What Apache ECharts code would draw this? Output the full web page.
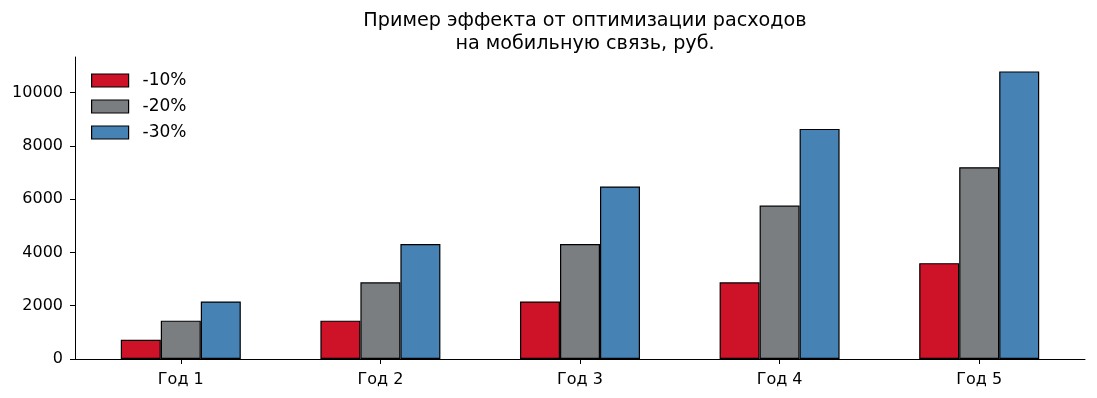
<!DOCTYPE html>
<html><head><meta charset="utf-8">
<script src="https://cdn.jsdelivr.net/npm/echarts@6/dist/echarts.min.js"></script>
<style>html,body{margin:0;padding:0;background:#fff}#c{width:1097px;height:398px}</style>
</head><body><div id="c"></div>
<script>
const categories = ['Год 1','Год 2','Год 3','Год 4','Год 5'];
const seriesNames = ['-10%','-20%','-30%'];
const s10 = [720, 1440, 2160, 2880, 3600];
const s20 = [1440, 2880, 4320, 5760, 7200];
const s30 = [2160, 4320, 6480, 8640, 10800];
const yTicks = [0, 2000, 4000, 6000, 8000, 10000];
const colors = ['#ce1228', '#7a7e81', '#4682b4'];
const font = 'DejaVu Sans';
const xPos = categories.map((c,i)=>i);
function mk(name, vals, color){
  return {name, type:'bar', data: vals.map((v,i)=>[xPos[i], v]), barWidth: 40, barGap:'0%',
    itemStyle:{color, borderColor:'#000', borderWidth:1.2}, animation:false};
}
const chart = echarts.init(document.getElementById('c'), null, {renderer:'canvas'});
chart.setOption({
  animation:false,
  title:{text:'Пример эффекта от оптимизации расходов\nна мобильную связь, руб.', left:580, textAlign:'center', top:5,
    textStyle:{fontFamily:font, fontSize:19.2, fontWeight:'normal', color:'#000', lineHeight:23}},
  legend:{orient:'vertical', left:86, top:67, itemWidth:37, itemHeight:13, itemGap:9, icon:'rect',
    textStyle:{fontFamily:font, fontSize:17, lineHeight:16, color:'#000', padding:[0,0,0,9]}, data: seriesNames,
    itemStyle:{borderColor:'#000', borderWidth:1.2}},
  grid:{left:75, top:57, width:1010, height:302},
  xAxis:{type:'value', min:-0.53, max:4.53,
    axisLine:{show:true, onZero:false, lineStyle:{color:'#000', width:1}},
    axisTick:{show:true, customValues: xPos, length:5, lineStyle:{color:'#000'}},
    axisLabel:{customValues: xPos, formatter:v=>categories[Math.round(v)], fontFamily:font, fontSize:16, color:'#000', margin:13},
    splitLine:{show:false}},
  yAxis:{type:'value', min:0, max:11340,
    axisLine:{show:true, onZero:false, lineStyle:{color:'#000', width:1}},
    axisTick:{show:true, customValues: yTicks, length:5, lineStyle:{color:'#000'}},
    axisLabel:{customValues: yTicks, formatter:v=>String(v), fontFamily:font, fontSize:16, color:'#000', margin:12},
    splitLine:{show:false}},
  series:[mk(seriesNames[0], s10, colors[0]), mk(seriesNames[1], s20, colors[1]), mk(seriesNames[2], s30, colors[2])]
});
</script></body></html>
